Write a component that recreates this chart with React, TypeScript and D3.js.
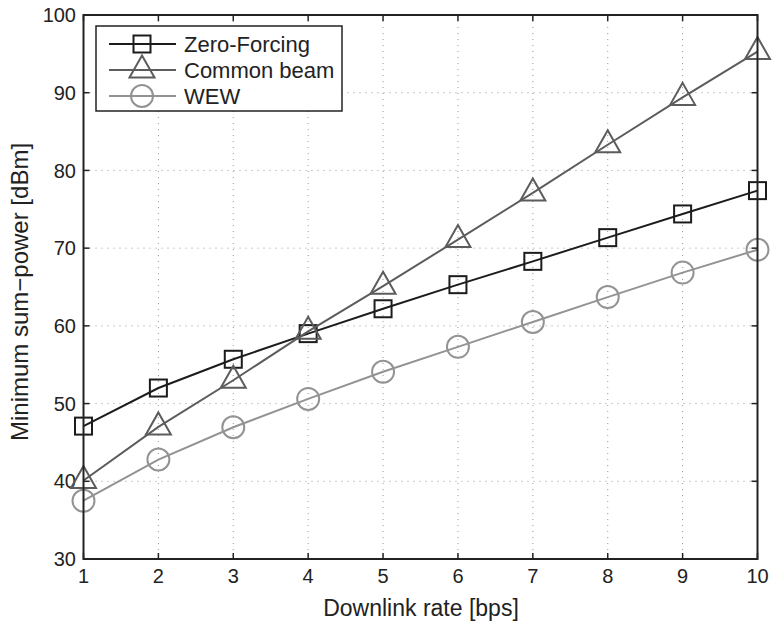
import React from "react";
import * as d3 from "d3";

const rates = [1, 2, 3, 4, 5, 6, 7, 8, 9, 10];
const zeroForcing = [47.1, 52.0, 55.7, 59.0, 62.2, 65.3, 68.3, 71.35, 74.4, 77.4];
const commonBeam = [40.1, 47.0, 53.0, 59.3, 65.1, 71.1, 77.1, 83.3, 89.4, 95.3];
const wew = [37.5, 42.8, 46.95, 50.6, 54.1, 57.3, 60.5, 63.7, 66.85, 69.8];
const xTicks = [1, 2, 3, 4, 5, 6, 7, 8, 9, 10];
const yTicks = [30, 40, 50, 60, 70, 80, 90, 100];
const seriesNames = ["Zero-Forcing", "Common beam", "WEW"];

const FONT = "'Liberation Sans', Arial, Helvetica, sans-serif";

const left = 83.5, right = 757.5, top = 15, bottom = 559;

function Marker({ kind, x, y, color }: { kind: string; x: number; y: number; color: string }) {
  if (kind === "square") {
    const s = 8.5;
    return <rect x={x - s} y={y - s} width={2 * s} height={2 * s} fill="none" stroke={color} strokeWidth={2} />;
  }
  if (kind === "triangle") {
    const w = 12.5, hTop = 14.5, hBot = 7.5;
    const p = `${x},${y - hTop} ${x + w},${y + hBot} ${x - w},${y + hBot}`;
    return <polygon points={p} fill="none" stroke={color} strokeWidth={2} />;
  }
  return <circle cx={x} cy={y} r={11} fill="none" stroke={color} strokeWidth={2} />;
}

export default function App() {
  const x = d3.scaleLinear().domain([1, 10]).range([left, right]);
  const y = d3.scaleLinear().domain([30, 100]).range([bottom, top]);
  const line = d3.line<number>().x((_, i) => x(rates[i])).y((d) => y(d));

  const series = [
    { name: seriesNames[0], data: zeroForcing, color: "#1c1c1c", kind: "square" },
    { name: seriesNames[1], data: commonBeam, color: "#5c5c5c", kind: "triangle" },
    { name: seriesNames[2], data: wew, color: "#939393", kind: "circle" },
  ];

  const legend = { x: 96, y: 26, w: 246, h: 85 };
  const legendRows = [44, 70, 96];

  return (
    <svg width={773} height={623} style={{ position: "absolute", left: 0, top: 0, background: "#fff" }} fontFamily={FONT}>
      <rect x={0} y={0} width={773} height={623} fill="#fff" />
      {xTicks.slice(1, -1).map((t) => (
        <line key={"gx" + t} x1={x(t)} x2={x(t)} y1={top} y2={bottom} stroke="#999" strokeWidth={1} strokeDasharray="1,5" />
      ))}
      {yTicks.slice(1, -1).map((t) => (
        <line key={"gy" + t} x1={left} x2={right} y1={y(t)} y2={y(t)} stroke="#999" strokeWidth={1} strokeDasharray="1,5" />
      ))}
      {xTicks.map((t) => (
        <g key={"tx" + t}>
          <line x1={x(t)} x2={x(t)} y1={bottom} y2={bottom - 6} stroke="#222" strokeWidth={1.5} />
          <line x1={x(t)} x2={x(t)} y1={top} y2={top + 6} stroke="#222" strokeWidth={1.5} />
          <text x={x(t)} y={583} textAnchor="middle" fontSize={20} fill="#222">{t}</text>
        </g>
      ))}
      {yTicks.map((t) => (
        <g key={"ty" + t}>
          <line x1={left} x2={left + 6} y1={y(t)} y2={y(t)} stroke="#222" strokeWidth={1.5} />
          <line x1={right} x2={right - 6} y1={y(t)} y2={y(t)} stroke="#222" strokeWidth={1.5} />
          <text x={76} y={y(t)} dy="0.36em" textAnchor="end" fontSize={20} fill="#222">{t}</text>
        </g>
      ))}
      {series.map((s) => (
        <g key={s.name}>
          <path d={line(s.data) || ""} fill="none" stroke={s.color} strokeWidth={2} />
          {s.data.map((v, i) => (
            <Marker key={i} kind={s.kind} x={x(rates[i])} y={y(v)} color={s.color} />
          ))}
        </g>
      ))}
      <rect x={left} y={top} width={right - left} height={bottom - top} fill="none" stroke="#222" strokeWidth={2} />
      <rect x={legend.x} y={legend.y} width={legend.w} height={legend.h} fill="#fff" stroke="#222" strokeWidth={1.5} />
      {series.map((s, i) => (
        <g key={"lg" + s.name}>
          <line x1={109} x2={176} y1={legendRows[i]} y2={legendRows[i]} stroke={s.color} strokeWidth={2} />
          <Marker kind={s.kind} x={142} y={legendRows[i]} color={s.color} />
          <text x={184} y={legendRows[i]} dy="0.36em" fontSize={22} fill="#222">{s.name}</text>
        </g>
      ))}
      <text x={421} y={616} textAnchor="middle" fontSize={23} fill="#222">Downlink rate [bps]</text>
      <text transform={`translate(28, ${292}) rotate(-90)`} textAnchor="middle" fontSize={24} fill="#222">Minimum sum−power [dBm]</text>
    </svg>
  );
}
